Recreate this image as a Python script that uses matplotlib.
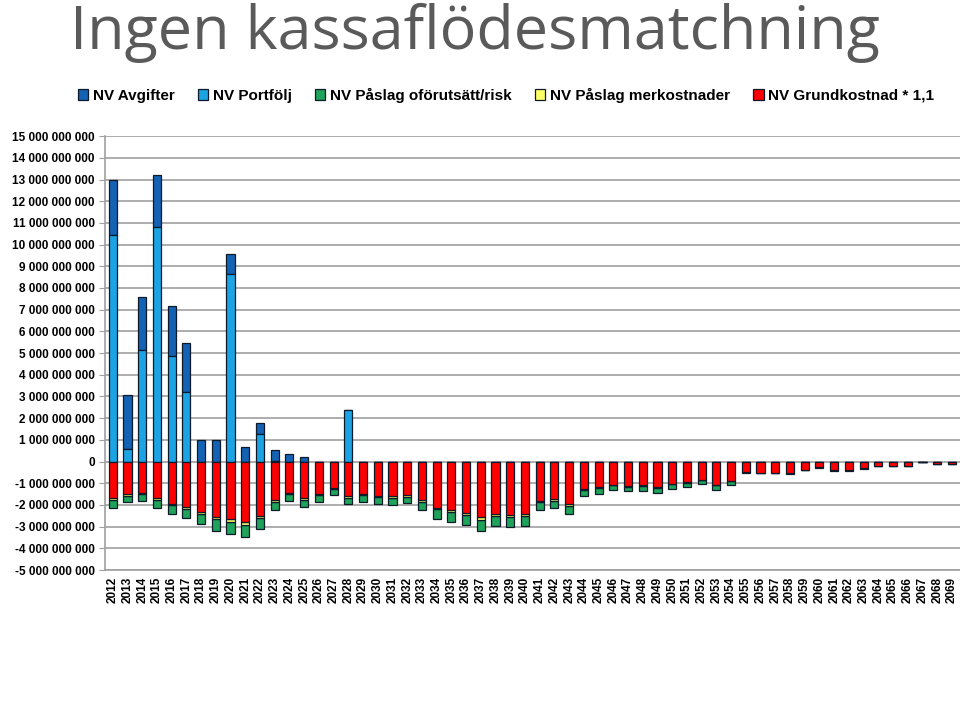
import numpy as np
import matplotlib
matplotlib.use("Agg")
from matplotlib import pyplot as plt
from matplotlib.ticker import FuncFormatter, MultipleLocator

years = list(range(2012, 2070))

# positive side (billions SEK)
portfolj = [10.45, 0.58, 5.16, 10.83, 4.86, 3.20, 0, 0, 8.66, 0, 1.29, 0.03, 0, 0, 0, 0, 2.36] + [0] * 41
avgifter = [2.52, 2.47, 2.44, 2.37, 2.31, 2.26, 1.01, 0.98, 0.92, 0.67, 0.47, 0.48, 0.34, 0.21] + [0] * 44

# negative side (billions SEK)
grundkostnad = [1.68, 1.51, 1.43, 1.69, 1.94, 2.08, 2.31, 2.57, 2.66, 2.80,
                2.49, 1.78, 1.43, 1.69, 1.48, 1.22, 1.60, 1.49, 1.57, 1.60,
                1.55, 1.78, 2.12, 2.25, 2.38, 2.57, 2.42, 2.46, 2.43, 1.80,
                1.74, 1.97, 1.26, 1.18, 1.06, 1.12, 1.09, 1.17, 1.02, 0.95,
                0.85, 1.06, 0.88, 0.49, 0.51, 0.51, 0.52, 0.37, 0.26, 0.40,
                0.40, 0.29, 0.20, 0.20, 0.20, 0.03, 0.12, 0.12]
merkostnader = [0.07, 0.06, 0.06, 0.07, 0.07, 0.10, 0.10, 0.10, 0.11, 0.11,
                0.10, 0.07, 0.06, 0.07, 0.06, 0.05, 0.07, 0.06, 0.07, 0.07,
                0.07, 0.07, 0.08, 0.09, 0.10, 0.11, 0.10, 0.10, 0.10, 0.07,
                0.07, 0.08, 0.04, 0.04, 0.03, 0.03, 0.03, 0.03, 0.03, 0.03,
                0.02, 0.03, 0.02, 0.01, 0.01, 0.01, 0.01, 0.01, 0.01, 0.01,
                0.01, 0.01, 0.005, 0.005, 0.005, 0.0, 0.003, 0.003]
risk = [0.37, 0.31, 0.31, 0.36, 0.39, 0.40, 0.45, 0.51, 0.55, 0.55,
        0.52, 0.37, 0.31, 0.35, 0.31, 0.25, 0.30, 0.31, 0.31, 0.31,
        0.30, 0.37, 0.45, 0.44, 0.46, 0.50, 0.46, 0.46, 0.45, 0.36,
        0.34, 0.37, 0.27, 0.26, 0.22, 0.23, 0.23, 0.26, 0.20, 0.20,
        0.16, 0.20, 0.16, 0.04, 0.03, 0.03, 0.03, 0.03, 0.02, 0.04,
        0.04, 0.02, 0.015, 0.015, 0.015, 0.0, 0.007, 0.007]

c_avg = "#1462B4"
c_port = "#1BA3E3"
c_risk = "#1FA25A"
c_mer = "#FFFF66"
c_grund = "#FF0000"

plt.rcParams['font.family'] = ['Liberation Sans', 'DejaVu Sans']

fig = plt.figure(figsize=(9.6, 7.09), dpi=100)
ax = fig.add_axes([0.109, 0.196, 0.891, 0.612])

x = np.arange(len(years))
B = 1e9
port = np.array(portfolj) * B
avg = np.array(avgifter) * B
grund = -np.array(grundkostnad) * B
mer = -np.array(merkostnader) * B
rk = -np.array(risk) * B

kw = dict(width=0.55, edgecolor="#0c1a2a", linewidth=0.9, zorder=3)
ax.bar(x, avg, bottom=port, color=c_avg, label="NV Avgifter", **kw)
ax.bar(x, port, color=c_port, label="NV Portfölj", **kw)
ax.bar(x, rk, bottom=grund + mer, color=c_risk, label="NV Påslag oförutsätt/risk", **kw)
ax.bar(x, mer, bottom=grund, color=c_mer, label="NV Påslag merkostnader", **kw)
ax.bar(x, grund, color=c_grund, label="NV Grundkostnad * 1,1", **kw)

ax.set_ylim(-5e9, 15e9)
ax.set_xlim(-0.55, len(years) - 0.45)
ax.yaxis.set_major_locator(MultipleLocator(1e9))
ax.yaxis.set_major_formatter(FuncFormatter(
    lambda v, p: "0" if abs(v) < 1 else f"{int(round(v)):,}".replace(",", " ")))
ax.grid(axis="y", color="#a0a0a0", linewidth=1.2, zorder=0)
ax.set_axisbelow(True)
for s in ["top", "right"]:
    ax.spines[s].set_visible(False)
ax.spines["left"].set_color("#a0a0a0")
ax.spines["bottom"].set_color("#a0a0a0")
ax.spines["left"].set_linewidth(1.2)
ax.spines["bottom"].set_linewidth(1.2)
ax.tick_params(axis="y", length=4, color="#a0a0a0", labelsize=8.5, pad=3)
ax.tick_params(axis="x", length=0, labelsize=8.5, pad=5)
ax.set_xticks(x)
ax.set_xticklabels([str(y) for y in years], rotation=90)
for lab in ax.get_yticklabels() + ax.get_xticklabels():
    lab.set_fontweight("bold")

fig.text(0.495, 0.931, "Ingen kassaflödesmatchning", ha="center", va="baseline",
         fontsize=44, color="#5a5a5a", family=["Open Sans", "DejaVu Sans"])

h, l = ax.get_legend_handles_labels()
fig.legend(h, l, loc="center", bbox_to_anchor=(0.527, 0.866), ncol=5, frameon=False,
           prop=dict(size=11, weight="bold"), handlelength=0.7, handleheight=0.7,
           handletextpad=0.3, columnspacing=1.5)

fig.savefig("out.png", dpi=100)
